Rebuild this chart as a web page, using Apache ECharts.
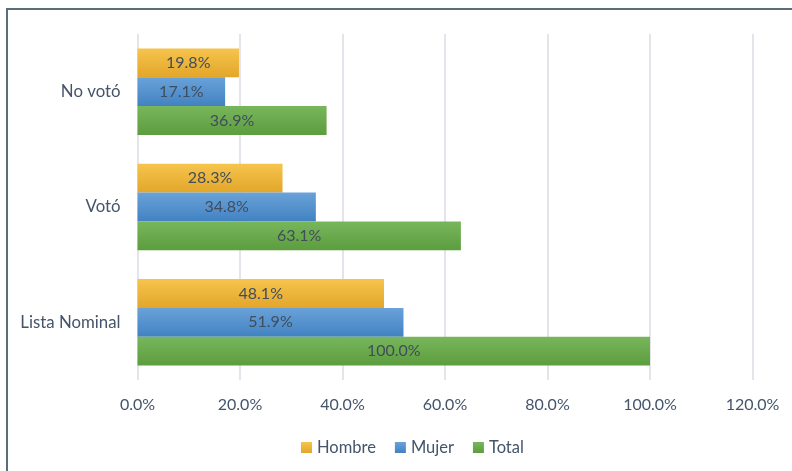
<!DOCTYPE html>
<html><head><meta charset="utf-8">
<script src="https://cdn.jsdelivr.net/npm/echarts@6/dist/echarts.min.js"></script>
<style>html,body{margin:0;padding:0;background:#fff}#c{width:792px;height:471px}</style>
</head><body><div id="c"></div>
<script>
const categories = ['Lista Nominal', 'Votó', 'No votó'];
const hombre = [48.1, 28.3, 19.8];
const mujer = [51.9, 34.8, 17.1];
const total = [100.0, 63.1, 36.9];
const xTicks = [0, 20, 40, 60, 80, 100, 120];

const FONT = 'Lato';
function grad(a, b) {
  return new echarts.graphic.LinearGradient(0, 0, 0, 1, [{offset: 0, color: a}, {offset: 1, color: b}]);
}
const lbl = {show: true, position: 'inside', color: '#404d5c', fontSize: 16, fontFamily: FONT,
  formatter: p => p.value.toFixed(1) + '%'};
const chart = echarts.init(document.getElementById('c'));
chart.setOption({
  animation: false,
  graphic: [{type: 'rect', shape: {x: 7, y: 9, width: 820, height: 500},
    style: {fill: 'none', stroke: '#5b6d78', lineWidth: 2}}],
  legend: {data: ['Hombre', 'Mujer', 'Total'], left: 296, top: 434, itemWidth: 11, itemHeight: 11,
    itemGap: 19, icon: 'rect', textStyle: {color: '#44546a', fontSize: 16.5, fontFamily: FONT}},
  grid: {left: 137.5, right: 39.5, top: 34, bottom: 91},
  xAxis: {type: 'value', min: xTicks[0], max: xTicks[xTicks.length - 1], interval: 20,
    axisLine: {show: false}, axisTick: {show: false},
    splitLine: {lineStyle: {color: '#d9dde2', width: 1.5}},
    axisLabel: {color: '#44546a', fontSize: 16, fontFamily: FONT, margin: 17,
      formatter: v => v.toFixed(1) + '%'}},
  yAxis: {type: 'category', data: categories, axisLine: {show: false}, axisTick: {show: false},
    axisLabel: {color: '#44546a', fontSize: 16.8, fontFamily: FONT, margin: 17}},
  series: [
    {name: 'Hombre', type: 'bar', data: hombre, barGap: '0%', barCategoryGap: '25%',
      itemStyle: {color: grad('#f6c44d', '#e2a62a')}, label: lbl},
    {name: 'Mujer', type: 'bar', data: mujer, barGap: '0%', barCategoryGap: '25%',
      itemStyle: {color: grad('#6aa2d9', '#4282c2')}, label: lbl},
    {name: 'Total', type: 'bar', data: total, barGap: '0%', barCategoryGap: '25%',
      itemStyle: {color: grad('#78b65c', '#5c9d3e')}, label: lbl}
  ]
});
</script></body></html>
